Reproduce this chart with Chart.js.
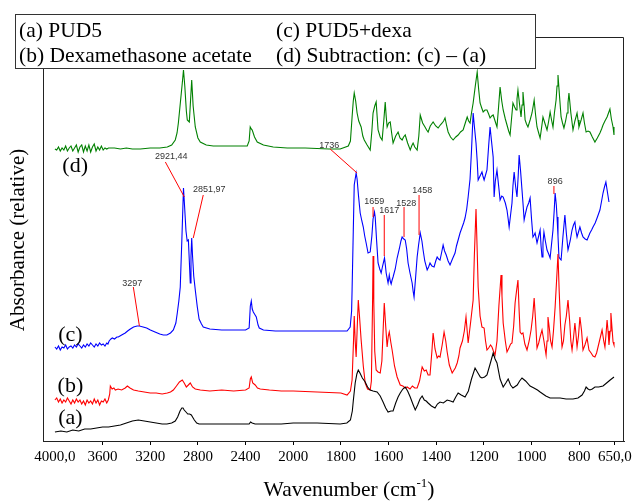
<!DOCTYPE html>
<html>
<head>
<meta charset="utf-8">
<script src="https://cdn.jsdelivr.net/npm/chart.js@4.4.1/dist/chart.umd.min.js"></script>
<style>
  html, body { margin: 0; padding: 0; background: #fff; }
  #wrap { width: 636px; height: 501px; }
</style>
</head>
<body>
<div id="wrap"><canvas id="c" width="636" height="501"></canvas></div>
<script>
// ---------- DATA (wavenumber cm-1, relative absorbance units) ----------
const TICK_WN = [4000, 3600, 3200, 2800, 2400, 2000, 1800, 1600, 1400, 1200, 1000, 800, 650];
const TICK_LABELS = ['4000,0', '3600', '3200', '2800', '2400', '2000', '1800', '1600', '1400', '1200', '1000', '800', '650,0'];

const SERIES_NAMES = ['(a) PUD5', '(b) Dexamethasone acetate', '(c) PUD5+dexa', '(d) Subtraction: (c) \u2013 (a)'];
const SERIES_TAGS = ['(a)', '(b)', '(c)', '(d)'];

// (a) PUD5 — black
const spectrumA = [[4000,9],[3950,10],[3900,9],[3850,11],[3800,10],[3750,12],[3700,12],[3650,13],[3600,14],[3550,14],[3500,15],[3450,16],[3400,18],[3350,20],[3300,21],[3250,20],[3200,19],[3150,18],[3100,17],[3060,17],[3020,18],[2990,20],[2970,24],[2950,30],[2935,33],[2925,33],[2915,31],[2900,29],[2885,27],[2870,27],[2855,26],[2845,24],[2830,21],[2810,18],[2790,17],[2700,17],[2600,17],[2500,17],[2400,17],[2370,17],[2358,19],[2345,18],[2320,17],[2250,17],[2100,17],[2000,18],[1900,18],[1803,17],[1775,18],[1760,21],[1752,30],[1748,40],[1740,58],[1733,67],[1727,71],[1720,68],[1710,63],[1698,59],[1688,54],[1677,51],[1665,50],[1648,49],[1635,45],[1623,39],[1612,33],[1602,29],[1590,30],[1581,30],[1570,38],[1560,44],[1551,48],[1540,52],[1530,54],[1520,50],[1509,44],[1498,37],[1488,31],[1478,36],[1468,42],[1459,45],[1450,41],[1442,40],[1434,38],[1420,35],[1405,33],[1395,37],[1384,39],[1370,38],[1354,41],[1340,40],[1329,39],[1318,44],[1308,48],[1295,46],[1279,44],[1265,50],[1252,62],[1237,73],[1225,68],[1215,64],[1208,63],[1197,64],[1187,66],[1175,76],[1161,88],[1153,82],[1145,78],[1132,62],[1119,54],[1108,58],[1098,62],[1088,56],[1078,53],[1060,56],[1050,60],[1040,63],[1025,60],[1006,55],[990,53],[975,51],[964,49],[940,45],[922,43],[900,43],[880,43],[855,42],[826,42],[805,43],[788,46],[778,50],[771,54],[763,52],[755,51],[745,52],[734,54],[718,54],[700,55],[685,58],[670,61],[654,64]];

// (b) Dexamethasone acetate — red
const spectrumB = [[4000,41],[3985,43],[3970,39],[3955,42],[3940,38],[3925,41],[3910,39],[3895,43],[3880,40],[3865,37],[3850,41],[3835,38],[3820,42],[3805,39],[3790,41],[3775,37],[3760,40],[3745,36],[3730,41],[3715,38],[3700,40],[3685,37],[3670,42],[3655,38],[3640,41],[3625,36],[3610,40],[3595,39],[3580,42],[3565,38],[3552,41],[3540,47],[3535,55],[3520,52],[3505,53],[3493,51],[3470,52],[3440,51],[3410,53],[3392,55],[3370,53],[3340,51],[3300,50],[3250,49],[3200,48],[3150,48],[3100,47],[3057,48],[3030,49],[3006,51],[2980,55],[2955,59],[2931,61],[2915,58],[2897,54],[2880,56],[2864,58],[2845,54],[2822,52],[2780,51],[2700,50],[2600,51],[2500,50],[2400,51],[2370,53],[2360,62],[2352,64],[2340,58],[2319,56],[2300,53],[2277,52],[2200,51],[2100,50],[2000,50],[1900,49],[1800,48],[1774,46],[1760,50],[1753,61],[1747,100],[1744,125],[1740,100],[1736,84],[1732,110],[1727,141],[1722,125],[1715,101],[1706,75],[1698,58],[1688,52],[1677,51],[1672,60],[1667,140],[1665,185],[1662,140],[1658,90],[1652,71],[1644,69],[1635,68],[1628,80],[1622,115],[1618,138],[1612,115],[1606,94],[1601,105],[1597,109],[1590,98],[1585,91],[1575,75],[1564,64],[1551,56],[1540,55],[1530,53],[1522,54],[1510,52],[1500,55],[1490,53],[1480,53],[1470,60],[1459,74],[1450,70],[1442,71],[1434,66],[1426,66],[1418,90],[1413,108],[1405,92],[1396,83],[1390,85],[1384,84],[1375,96],[1367,109],[1360,100],[1354,89],[1345,76],[1333,68],[1320,73],[1312,78],[1305,85],[1300,93],[1290,100],[1282,110],[1275,124],[1270,110],[1266,98],[1255,120],[1245,141],[1240,185],[1233,232],[1228,190],[1224,154],[1216,125],[1208,114],[1199,113],[1193,100],[1187,91],[1180,93],[1172,96],[1166,94],[1160,90],[1153,86],[1145,100],[1137,135],[1128,166],[1124,145],[1119,118],[1110,100],[1103,89],[1095,93],[1088,97],[1082,98],[1075,115],[1069,138],[1063,150],[1057,161],[1052,130],[1048,109],[1042,107],[1036,108],[1028,97],[1019,91],[1010,100],[1002,111],[995,125],[989,143],[983,120],[977,93],[970,98],[963,105],[956,111],[948,100],[939,86],[935,100],[931,124],[925,112],[920,100],[914,94],[908,110],[901,134],[895,160],[889,187],[884,150],[878,115],[872,94],[866,100],[860,116],[854,125],[847,141],[840,120],[835,100],[830,91],[824,103],[818,118],[814,108],[809,94],[803,105],[797,124],[790,110],[784,91],[776,96],[767,103],[759,91],[750,88],[742,85],[734,84],[727,88],[721,94],[712,103],[704,111],[697,100],[692,94],[688,105],[683,121],[679,110],[675,96],[670,110],[667,128],[662,112],[658,99],[654,96]];

// (c) PUD5 + dexa — blue
const spectrumC = [[4000,94],[3985,92],[3970,95],[3955,91],[3940,94],[3925,93],[3910,96],[3895,92],[3880,94],[3865,95],[3850,93],[3835,96],[3820,94],[3805,97],[3790,95],[3775,93],[3760,96],[3745,94],[3730,97],[3715,95],[3700,98],[3685,96],[3670,94],[3655,97],[3640,95],[3625,98],[3610,96],[3595,97],[3580,95],[3565,98],[3555,97],[3545,100],[3530,102],[3518,103],[3500,102],[3480,104],[3468,104],[3440,106],[3410,108],[3390,110],[3367,112],[3340,114],[3310,115],[3291,115],[3260,114],[3230,113],[3199,111],[3160,109],[3120,107],[3090,106],[3060,106],[3030,108],[3006,111],[2985,118],[2973,128],[2960,140],[2948,154],[2935,200],[2921,253],[2912,235],[2900,210],[2890,200],[2880,201],[2872,180],[2864,158],[2858,185],[2852,203],[2845,185],[2835,165],[2822,151],[2805,134],[2790,122],[2770,117],[2755,114],[2700,112],[2600,111],[2500,111],[2400,111],[2370,113],[2360,135],[2352,140],[2344,132],[2335,129],[2320,126],[2310,124],[2295,116],[2285,113],[2250,111],[2150,110],[2050,110],[1971,110],[1880,110],[1800,110],[1774,110],[1761,114],[1755,130],[1753,151],[1748,210],[1744,256],[1740,262],[1736,268],[1732,262],[1726,245],[1719,228],[1712,220],[1706,214],[1700,205],[1694,198],[1686,188],[1677,189],[1670,205],[1665,222],[1659,229],[1656,224],[1650,200],[1644,178],[1637,172],[1631,168],[1625,175],[1617,183],[1613,175],[1610,168],[1606,163],[1602,158],[1597,166],[1593,160],[1589,157],[1585,161],[1581,164],[1572,172],[1564,183],[1555,192],[1548,200],[1543,204],[1536,202],[1530,201],[1524,192],[1518,178],[1510,168],[1501,158],[1497,150],[1493,144],[1486,165],[1480,184],[1474,196],[1467,208],[1460,200],[1455,191],[1448,180],[1438,171],[1432,174],[1426,178],[1418,175],[1409,174],[1402,180],[1396,184],[1390,182],[1384,181],[1376,190],[1371,196],[1365,190],[1358,186],[1350,180],[1342,176],[1332,182],[1321,188],[1315,195],[1308,201],[1300,208],[1291,214],[1285,218],[1279,223],[1272,232],[1266,244],[1258,262],[1252,290],[1245,328],[1240,315],[1233,298],[1228,280],[1224,261],[1216,265],[1208,269],[1204,265],[1199,261],[1193,266],[1187,271],[1180,295],[1174,314],[1168,300],[1161,284],[1157,244],[1152,260],[1145,271],[1138,255],[1132,241],[1125,245],[1119,244],[1110,238],[1103,231],[1098,222],[1094,214],[1088,226],[1082,238],[1078,255],[1073,269],[1067,255],[1061,244],[1056,265],[1052,286],[1046,270],[1040,251],[1035,235],[1031,221],[1025,228],[1019,234],[1012,238],[1006,243],[1000,222],[994,204],[989,206],[985,208],[981,203],[977,198],[970,205],[964,211],[960,195],[956,184],[952,198],[948,209],[942,200],[935,191],[928,187],[922,183],[916,197],[910,211],[905,230],[901,248],[896,236],[893,224],[889,205],[885,184],[880,182],[876,181],[868,205],[860,226],[854,208],[847,191],[838,200],[830,211],[824,216],[818,219],[814,211],[809,204],[803,209],[797,214],[790,208],[784,204],[775,202],[767,201],[760,205],[755,208],[748,211],[742,214],[733,218],[725,223],[719,227],[713,231],[706,240],[700,248],[694,254],[688,259],[681,248],[675,239]];

// (d) Subtraction (c) - (a) — green
const spectrumD = [[4000,292],[3985,291],[3970,294],[3955,290],[3940,293],[3925,291],[3910,295],[3895,290],[3880,293],[3865,295],[3850,290],[3835,293],[3820,296],[3805,289],[3790,294],[3775,296],[3760,289],[3745,295],[3730,290],[3715,296],[3700,289],[3685,294],[3670,297],[3655,290],[3640,294],[3625,291],[3610,295],[3595,291],[3580,293],[3565,292],[3550,293],[3500,293],[3450,292],[3400,293],[3350,292],[3283,292],[3200,293],[3120,293],[3057,294],[3020,296],[2990,301],[2975,308],[2964,318],[2950,335],[2931,358],[2921,371],[2910,355],[2897,330],[2889,321],[2880,320],[2872,319],[2862,340],[2852,361],[2840,335],[2822,314],[2800,303],[2780,299],[2730,296],[2671,295],[2550,295],[2450,295],[2386,295],[2370,300],[2361,314],[2352,312],[2344,311],[2325,304],[2302,299],[2250,296],[2168,294],[2050,293],[1950,293],[1850,292],[1803,292],[1769,295],[1760,300],[1753,324],[1748,340],[1744,348],[1738,340],[1732,328],[1725,320],[1715,314],[1708,305],[1702,301],[1690,296],[1677,291],[1670,310],[1665,328],[1658,335],[1652,339],[1648,325],[1644,311],[1635,304],[1627,301],[1620,320],[1614,339],[1610,325],[1606,314],[1600,318],[1593,319],[1587,308],[1581,298],[1570,305],[1560,309],[1552,303],[1543,301],[1537,304],[1530,306],[1520,298],[1509,291],[1503,295],[1497,298],[1490,294],[1480,291],[1473,305],[1467,326],[1457,318],[1447,314],[1440,311],[1434,309],[1425,315],[1413,319],[1402,315],[1392,313],[1383,316],[1375,318],[1369,320],[1363,323],[1356,315],[1350,309],[1340,304],[1329,301],[1318,304],[1308,306],[1298,309],[1287,311],[1278,318],[1270,324],[1264,320],[1258,318],[1252,328],[1245,338],[1236,355],[1228,369],[1222,352],[1216,338],[1209,333],[1203,329],[1195,331],[1187,331],[1180,327],[1174,323],[1167,325],[1161,326],[1153,320],[1145,314],[1138,335],[1132,354],[1125,340],[1119,331],[1110,322],[1103,316],[1096,310],[1090,306],[1084,322],[1078,338],[1071,334],[1065,331],[1061,342],[1057,351],[1050,336],[1044,324],[1040,336],[1036,349],[1031,335],[1027,321],[1021,317],[1015,314],[1006,321],[998,328],[993,335],[989,341],[983,326],[977,314],[970,308],[964,303],[958,313],[952,324],[943,317],[935,311],[928,320],[922,329],[916,321],[910,314],[904,328],[897,341],[893,355],[889,366],[882,343],[876,324],[870,318],[864,313],[857,320],[851,328],[847,338],[843,348],[835,328],[826,311],[818,320],[809,328],[805,321],[801,314],[792,321],[784,328],[778,318],[771,309],[763,310],[755,309],[745,304],[734,299],[724,303],[713,308],[706,312],[700,316],[692,320],[683,324],[677,328],[671,332],[665,322],[658,314],[654,306]];

// Peak annotations: [text, textWn, textVal, lineFromWn, lineFromVal, lineToWn, lineToVal]
const PEAK_NOTES = [
  ['3297',    3350, 157, 3342, 154, 3291, 115],
  ['2921,44', 3023, 284, 3073, 279, 2914, 244],
  ['2851,97', 2704, 251, 2755, 246, 2839, 203],
  ['1736',    1849, 295, 1845, 292, 1732, 268],
  ['1659',    1660, 239, 1665, 234, 1665, 224],
  ['1617',    1597, 230, 1618, 226, 1618, 185],
  ['1528',    1526, 237, 1535, 234, 1535, 204],
  ['1458',    1459, 250, 1472, 246, 1472, 206],
  ['896',      901, 259,  906, 255,  906, 247]
];
// Where the series tags sit: [wavenumber, value]
const TAG_ANCHORS = [[3870, 23], [3870, 55], [3870, 106], [3830, 275]];

// ---------- AXIS TRANSFORM (spectrometer scale halves above 2000 cm-1) ----------
function toU(w) { return w <= 2000 ? w : 2000 + (w - 2000) / 2; }
const COLORS = ['#000000', '#ff0000', '#0000ff', '#008000'];
const SPECTRA = [spectrumA, spectrumB, spectrumC, spectrumD];

const datasets = SPECTRA.map((s, i) => ({
  label: SERIES_NAMES[i],
  data: s.map(p => ({ x: toU(p[0]), y: p[1] })),
  borderColor: COLORS[i],
  borderWidth: 1.1,
  pointRadius: 0,
  tension: 0,
  fill: false
}));

const SERIF = '"Liberation Serif", "Times New Roman", Times, serif';
const SANS = '"Liberation Sans", Arial, Helvetica, sans-serif';

const decor = {
  id: 'decor',
  afterDraw(chart) {
    const { ctx, chartArea: ca, scales: { x, y } } = chart;
    const px = w => x.getPixelForValue(toU(w));
    const py = v => y.getPixelForValue(v);
    ctx.save();
    // frame (left, top, right)
    ctx.strokeStyle = '#222';
    ctx.lineWidth = 1;
    ctx.beginPath();
    ctx.moveTo(Math.round(ca.left) + 0.5, ca.bottom);
    ctx.lineTo(Math.round(ca.left) + 0.5, Math.round(ca.top) + 0.5);
    ctx.lineTo(Math.round(ca.right) - 0.5, Math.round(ca.top) + 0.5);
    ctx.lineTo(Math.round(ca.right) - 0.5, ca.bottom);
    ctx.stroke();

    // peak annotations
    ctx.strokeStyle = '#ff0000';
    ctx.lineWidth = 1;
    PEAK_NOTES.forEach(n => {
      ctx.beginPath();
      ctx.moveTo(px(n[3]), py(n[4]));
      ctx.lineTo(px(n[5]), py(n[6]));
      ctx.stroke();
    });
    ctx.fillStyle = '#333';
    ctx.font = '9px ' + SANS;
    ctx.textAlign = 'center';
    ctx.textBaseline = 'middle';
    PEAK_NOTES.forEach(n => ctx.fillText(n[0], px(n[1]), py(n[2])));

    // series tags
    ctx.fillStyle = '#000';
    ctx.font = '22px ' + SERIF;
    SERIES_TAGS.forEach((t, i) => ctx.fillText(t, px(TAG_ANCHORS[i][0]), py(TAG_ANCHORS[i][1])));

    // legend box
    ctx.fillStyle = '#fff';
    ctx.fillRect(15, 14, 520, 54);
    ctx.strokeStyle = '#333';
    ctx.strokeRect(15.5, 14.5, 520, 54);
    ctx.fillStyle = '#000';
    ctx.font = '21.5px ' + SERIF;
    ctx.textAlign = 'left';
    ctx.textBaseline = 'alphabetic';
    ctx.fillText(SERIES_NAMES[0], 19, 37);
    ctx.fillText(SERIES_NAMES[1], 19, 62);
    ctx.fillText(SERIES_NAMES[2], 276, 37);
    ctx.fillText(SERIES_NAMES[3], 276, 62);

    // x-axis title with superscript
    const main = 'Wavenumber (cm', sup = '-1', tail = ')';
    const big = '21.5px ' + SERIF, small = '13px ' + SERIF;
    ctx.font = big;
    const w1 = ctx.measureText(main).width, w3 = ctx.measureText(tail).width;
    ctx.font = small;
    const w2 = ctx.measureText(sup).width;
    const sx = 349 - (w1 + w2 + w3) / 2;
    const base = 496;
    ctx.font = big;
    ctx.fillText(main, sx, base);
    ctx.font = small;
    ctx.fillText(sup, sx + w1, base - 9);
    ctx.font = big;
    ctx.fillText(tail, sx + w1 + w2, base);

    // y-axis title
    ctx.translate(18, 240);
    ctx.rotate(-Math.PI / 2);
    ctx.textAlign = 'center';
    ctx.textBaseline = 'middle';
    ctx.font = '21px ' + SERIF;
    ctx.fillText('Absorbance (relative)', 0, 0);
    ctx.restore();
  }
};

new Chart(document.getElementById('c'), {
  type: 'line',
  data: { datasets },
  options: {
    responsive: false,
    animation: false,
    parsing: true,
    layout: { padding: { top: 37, right: 12, left: 43, bottom: 0 } },
    plugins: { legend: { display: false }, tooltip: { enabled: false }, title: { display: false } },
    scales: {
      x: {
        type: 'linear',
        reverse: true,
        min: 612,
        max: 3050,
        afterBuildTicks: s => { s.ticks = TICK_WN.map(w => ({ value: toU(w) })); },
        afterFit: s => { s.height = 60; },
        ticks: {
          autoSkip: false,
          maxRotation: 0,
          padding: 3,
          color: '#000',
          font: { family: SERIF, size: 15 },
          callback: (v, i) => TICK_LABELS[i]
        },
        grid: {
          drawOnChartArea: false,
          tickLength: 4,
          color: c => (c.index === 0 ? 'rgba(0,0,0,0)' : '#000')
        },
        border: { display: true, color: '#222', width: 1 }
      },
      y: { display: false, min: 0, max: 404 }
    }
  },
  plugins: [decor]
});
</script>
</body>
</html>
